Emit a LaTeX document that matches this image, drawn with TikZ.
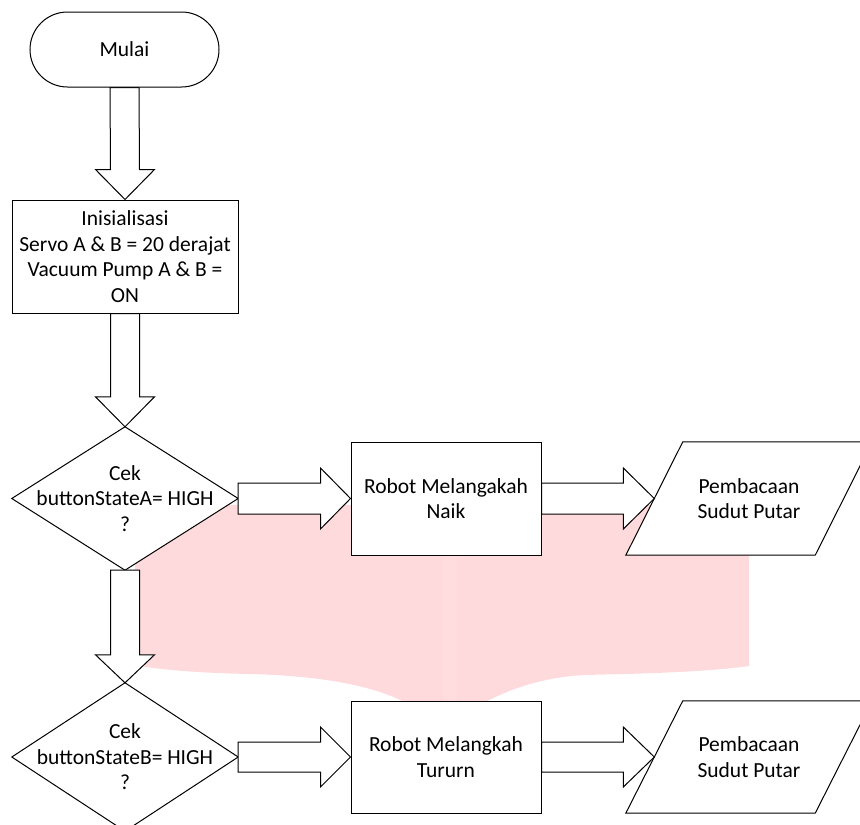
\documentclass[tikz,border=0pt]{standalone}
\usepackage{fontspec}
\setmainfont{Carlito}
\usetikzlibrary{calc}
\definecolor{wmpink}{RGB}{255,218,221}
\definecolor{wmstripe}{RGB}{255,221,223}
\pgfdeclarelayer{wm}
\pgfdeclarelayer{shp}
\pgfsetlayers{wm,shp,main}
\begin{document}
\begin{tikzpicture}[x=1pt,y=-1pt,
  every node/.style={font=\fontsize{21.5}{25.5}\selectfont, align=center, inner sep=0pt},
  term/.style={draw, fill=white, rounded corners=37.5pt, minimum width=189pt, minimum height=75pt, line width=1pt},
  procbox/.style={draw, fill=white, line width=1pt},
  txtnode/.style={draw=none},
  shapeline/.style={draw=black, fill=white, line width=1pt, line join=miter},
  barrow/.style={draw=black, fill=white, line width=1pt, line join=miter}]
\useasboundingbox (0,0) rectangle (860,825);
\clip (0,0) rectangle (860,825);

% nodes
\node[term] (start) at (124.5,49.5) {Mulai};
\node[procbox, minimum width=226pt, minimum height=113pt] (init) at (125,256.5)
  {Inisialisasi\\Servo A \& B = 20 derajat\\Vacuum Pump A \& B =\\ON};
\node[txtnode, minimum width=226pt, minimum height=143pt] (decA) at (125,498.5)
  {Cek\\buttonStateA= HIGH\\?};
\node[txtnode, minimum width=226pt, minimum height=148pt] (decB) at (125,757)
  {Cek\\buttonStateB= HIGH\\?};
\node[procbox, minimum width=190pt, minimum height=113pt] (naik) at (446,498.5)
  {Robot Melangakah\\Naik};
\node[procbox, minimum width=190pt, minimum height=112pt] (turun) at (446,757)
  {Robot Melangkah\\Tururn};
\node[txtnode, minimum width=189pt, minimum height=113pt] (readA) at (749,498.5)
  {Pembacaan\\Sudut Putar};
\node[txtnode, minimum width=189pt, minimum height=112pt] (readB) at (749,757)
  {Pembacaan\\Sudut Putar};

% watermark
\begin{pgfonlayer}{wm}
\path[fill=wmpink] (135,505) -- (749,505) -- (749,666)
  .. controls (700,673) and (620,674) .. (585,675)
  .. controls (545,677) and (510,688) .. (480,705)
  -- (446,722) -- (410,705)
  .. controls (380,688) and (330,676) .. (250,674)
  .. controls (200,673) and (160,670) .. (135,665) -- cycle;
\begin{scope}
\clip (135,505) -- (749,505) -- (749,666)
  .. controls (700,673) and (620,674) .. (585,675)
  .. controls (545,677) and (510,688) .. (480,705)
  -- (446,722) -- (410,705)
  .. controls (380,688) and (330,676) .. (250,674)
  .. controls (200,673) and (160,670) .. (135,665) -- cycle;
\fill[wmstripe] (443,500) rectangle (457,730);
\end{scope}
\end{pgfonlayer}

\begin{pgfonlayer}{shp}
% decision diamonds
\draw[shapeline] (decA.north) -- (decA.east) -- (decA.south) -- (decA.west) -- cycle;
\draw[shapeline] (decB.north) -- (decB.east) -- (decB.south) -- (decB.west) -- cycle;
% input parallelograms
\draw[shapeline] ($(readA.south west)+(-28.5,0)$) -- ($(readA.south east)+(-28.5,0)$)
  -- ($(readA.north east)+(28.5,0)$) -- ($(readA.north west)+(28.5,0)$) -- cycle;
\draw[shapeline] ($(readB.south west)+(-28.5,0)$) -- ($(readB.south east)+(-28.5,0)$)
  -- ($(readB.north east)+(28.5,0)$) -- ($(readB.north west)+(28.5,0)$) -- cycle;

% down block arrows
\draw[barrow] ($(start.south)+(-14.5,0)$) -- ($(init.north)+(-14.5,-30)$) -- ($(init.north)+(-29.5,-30)$)
  -- (init.north) -- ($(init.north)+(29.5,-30)$) -- ($(init.north)+(14.5,-30)$) -- ($(start.south)+(14.5,0)$) -- cycle;
\draw[barrow] ($(init.south)+(-14.5,0)$) -- ($(decA.north)+(-14.5,-30)$) -- ($(decA.north)+(-29.5,-30)$)
  -- (decA.north) -- ($(decA.north)+(29.5,-30)$) -- ($(decA.north)+(14.5,-30)$) -- ($(init.south)+(14.5,0)$) -- cycle;
\draw[barrow] ($(decA.south)+(-14.5,0)$) -- ($(decB.north)+(-14.5,-28)$) -- ($(decB.north)+(-29.5,-28)$)
  -- (decB.north) -- ($(decB.north)+(29.5,-28)$) -- ($(decB.north)+(14.5,-28)$) -- ($(decA.south)+(14.5,0)$) -- cycle;

% right block arrows, row A
\draw[barrow] ($(decA.east)+(0,-15.5)$) -- ($(naik.west)+(-30,-15.5)$) -- ($(naik.west)+(-30,-30.5)$)
  -- (naik.west) -- ($(naik.west)+(-30,30.5)$) -- ($(naik.west)+(-30,15.5)$) -- ($(decA.east)+(0,15.5)$) -- cycle;
\draw[barrow] ($(naik.east)+(0,-15.5)$) -- ($(readA.west)+(-31,-15.5)$) -- ($(readA.west)+(-31,-30.5)$)
  -- (readA.west) -- ($(readA.west)+(-31,30.5)$) -- ($(readA.west)+(-31,15.5)$) -- ($(naik.east)+(0,15.5)$) -- cycle;
% right block arrows, row B
\draw[barrow] ($(decB.east)+(0,-15)$) -- ($(turun.west)+(-30,-15)$) -- ($(turun.west)+(-30,-30)$)
  -- (turun.west) -- ($(turun.west)+(-30,30)$) -- ($(turun.west)+(-30,15)$) -- ($(decB.east)+(0,15)$) -- cycle;
\draw[barrow] ($(turun.east)+(0,-15)$) -- ($(readB.west)+(-31,-15)$) -- ($(readB.west)+(-31,-30)$)
  -- (readB.west) -- ($(readB.west)+(-31,30)$) -- ($(readB.west)+(-31,15)$) -- ($(turun.east)+(0,15)$) -- cycle;
\end{pgfonlayer}
\end{tikzpicture}
\end{document}
